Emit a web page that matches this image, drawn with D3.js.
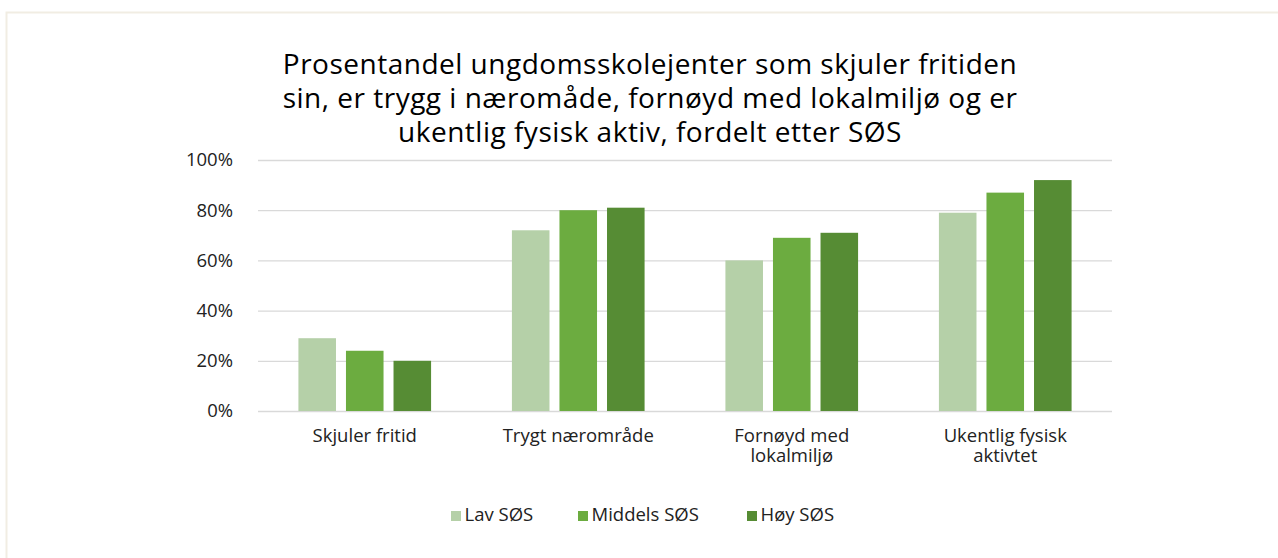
<!DOCTYPE html>
<html>
<head>
<meta charset="utf-8">
<script src="https://cdn.jsdelivr.net/npm/d3@7"></script>
<style>
  body { margin: 0; background: #fff; }
  svg { font-family: "Open Sans", sans-serif; }
</style>
</head>
<body>
<svg id="chart"></svg>
<script>
const categories = [["Skjuler fritid"], ["Trygt nærområde"], ["Fornøyd med", "lokalmiljø"], ["Ukentlig fysisk", "aktivtet"]]
const seriesNames = ["Lav SØS", "Middels SØS", "Høy SØS"]
const lav = [29, 72, 60, 79]
const middels = [24, 80, 69, 87]
const hoy = [20, 81, 71, 92]
const yTicks = [0, 20, 40, 60, 80, 100]
const titleLines = [
  "Prosentandel ungdomsskolejenter som skjuler fritiden",
  "sin, er trygg i næromåde, fornøyd med lokalmiljø og er",
  "ukentlig fysisk aktiv, fordelt etter SØS",
]
const colors = ["#b5d0a8", "#6cac40", "#568c34"]

const width = 1278
const height = 558
const margin = { top: 160, right: 166, bottom: 147, left: 258 }

const svg = d3.select("#chart").attr("width", width).attr("height", height)

// frame
svg.append("path")
  .attr("d", `M6.5,${height} V12.5 H${width}`)
  .attr("fill", "none")
  .attr("stroke", "#f1ede3")
  .attr("stroke-width", 2)

const keys = categories.map((d, i) => i)
const x = d3.scaleBand().domain(keys).range([margin.left, width - margin.right])
const x1 = d3.scaleBand().domain(seriesNames).range([0, x.bandwidth()]).paddingInner(0.21).paddingOuter(0.85)
const y = d3.scaleLinear().domain([0, 100]).range([height - margin.bottom, margin.top])

// title
svg.append("text")
  .attr("text-anchor", "middle")
  .attr("fill", "#000")
  .attr("font-size", 28)
  .attr("letter-spacing", 0.5)
  .selectAll("tspan")
  .data(titleLines)
  .join("tspan")
  .attr("x", 650)
  .attr("y", (d, i) => 74 + i * 34)
  .text((d) => d)

// grid + y axis
const yAxis = svg.append("g")
  .attr("transform", `translate(${margin.left},0)`)
  .call(d3.axisLeft(y).tickValues(yTicks).tickSize(-(width - margin.left - margin.right)).tickFormat((d) => d + "%"))
yAxis.select(".domain").remove()
yAxis.selectAll(".tick line").attr("stroke", "#d9d9d9").attr("stroke-width", 1.3)
yAxis.selectAll(".tick text")
  .attr("x", -25)
  .attr("font-size", 18.5)
  .attr("fill", "#222")
  .attr("font-family", "Open Sans, sans-serif")

// bars
const series = [lav, middels, hoy]
const groups = svg.append("g")
  .selectAll("g")
  .data(keys)
  .join("g")
  .attr("transform", (d) => `translate(${x(d)},0)`)

groups.selectAll("rect")
  .data((c) => seriesNames.map((s, si) => ({ s, si, v: series[si][c] })))
  .join("rect")
  .attr("x", (d) => x1(d.s))
  .attr("width", x1.bandwidth())
  .attr("y", (d) => y(d.v))
  .attr("height", (d) => y(0) - y(d.v))
  .attr("fill", (d) => colors[d.si])

// category labels
svg.append("g")
  .selectAll("text")
  .data(keys)
  .join("text")
  .attr("text-anchor", "middle")
  .attr("font-size", 18.5)
  .attr("fill", "#222")
  .selectAll("tspan")
  .data((c) => categories[c].map((line) => ({ c, line })))
  .join("tspan")
  .attr("x", (d) => x(d.c) + x.bandwidth() / 2)
  .attr("y", (d, i) => 442 + i * 20)
  .text((d) => d.line)

// legend
const legendX = [451, 578, 747]
const legend = svg.append("g")
  .selectAll("g")
  .data(seriesNames)
  .join("g")
  .attr("transform", (d, i) => `translate(${legendX[i]},521)`)
legend.append("rect")
  .attr("x", 0)
  .attr("y", -10)
  .attr("width", 10)
  .attr("height", 10)
  .attr("fill", (d, i) => colors[i])
legend.append("text")
  .attr("x", 13.5)
  .attr("y", 0)
  .attr("font-size", 18.5)
  .attr("fill", "#222")
  .text((d) => d)
</script>
</body>
</html>
